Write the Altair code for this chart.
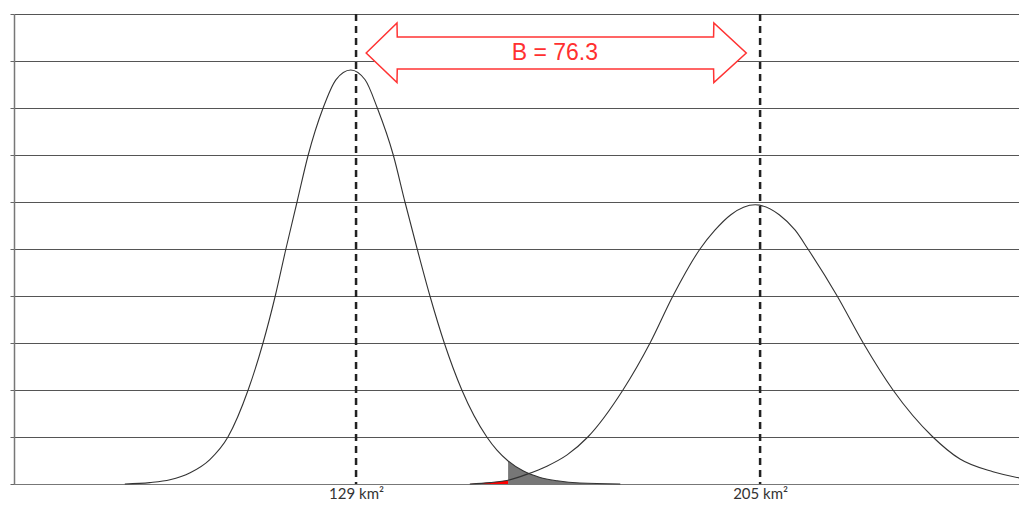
import altair as alt
import pandas as pd

# Curve 1 (left distribution): x in km², y in grid units
c1_x = [85.5, 90.2, 94.0, 97.8, 101.5, 104.9, 108.7, 111.5, 113.8, 115.8, 117.9, 120.0,
        122.8, 125.2, 128.0, 130.7, 133.0, 136.0, 138.2, 140.5, 142.9, 145.6, 148.9,
        153.6, 155.5, 157.6, 160.4, 163.6, 166.8, 171.1, 178.7]
c1_y = [0.0, 0.03, 0.09, 0.24, 0.52, 1.0, 2.0, 3.0, 4.0, 5.0, 6.0, 7.0,
        8.0, 8.6, 8.81, 8.6, 8.0, 7.0, 6.0, 5.0, 4.0, 3.0, 2.0,
        1.0, 0.72, 0.49, 0.28, 0.14, 0.07, 0.02, 0.0]

# Curve 2 (right distribution)
c2_x = [150.4, 154.2, 157.6, 161.2, 164.9, 168.7, 172.6, 179.2, 184.3, 188.6, 193.7,
        196.5, 199.5, 204.1, 208.6, 211.6, 214.0, 219.5, 224.4, 230.0, 237.5, 242.6,
        248.8, 253.7]
c2_y = [0.0, 0.03, 0.08, 0.21, 0.38, 0.62, 1.0, 2.0, 3.0, 4.0, 5.0,
        5.4, 5.73, 5.94, 5.73, 5.4, 5.0, 4.0, 3.0, 2.0, 1.0, 0.53,
        0.26, 0.13]

means = [129, 205]
threshold = 157.6

arrow_x = [130.9, 136.7, 136.75, 196.25, 196.3, 202.4]
arrow_top = [9.17, 9.81, 9.51, 9.51, 9.81, 9.17]
arrow_bot = [9.17, 8.54, 8.83, 8.83, 8.54, 9.17]

label_text = ["B = 76.3"]
label_x = [166.4]
label_y = [9.17]

curves = pd.DataFrame({
    "x": c1_x + c2_x,
    "y": c1_y + c2_y,
    "curve": ["a"] * len(c1_x) + ["b"] * len(c2_x),
})
means_df = pd.DataFrame({"m": means})
arrow_df = pd.DataFrame({"x": arrow_x, "top": arrow_top, "bot": arrow_bot})
label_df = pd.DataFrame({"x": label_x, "y": label_y, "t": label_text})

xscale = alt.Scale(domain=[64.66, 253.7], nice=False, zero=False)
yscale = alt.Scale(domain=[0, 10], nice=False, zero=True)

xaxis = alt.Axis(values=means, labelExpr="datum.value + ' km²'", ticks=False, grid=False,
                 title=None, labelFont="Lato", labelFontSize=15, labelColor="#333333",
                 labelPadding=2, domainColor="#777777", domainWidth=1)
yaxis = alt.Axis(values=list(range(11)), labels=False, ticks=True, tickSize=4,
                 tickColor="#666666", grid=True, gridColor="#555555", gridWidth=1,
                 domainColor="#777777", domainWidth=1.5, title=None)

X = alt.X("x:Q", scale=xscale, axis=xaxis)
Y = alt.Y("y:Q", scale=yscale, axis=yaxis)

gray_fill = alt.Chart(curves).transform_filter(
    f"datum.curve == 'a' && datum.x >= {threshold}"
).mark_area(color="#777777", interpolate="monotone").encode(x=X, y=Y)

red_fill = alt.Chart(curves).transform_filter(
    f"datum.curve == 'b' && datum.x <= {threshold}"
).mark_area(color="#ff0000", interpolate="monotone").encode(x=X, y=Y)

lines = alt.Chart(curves).mark_line(
    color="#333333", strokeWidth=1.1, interpolate="monotone"
).encode(x=X, y=Y, detail="curve:N")

rules = alt.Chart(means_df).mark_rule(
    color="#222222", strokeWidth=2.5, strokeDash=[7, 5]
).encode(x=alt.X("m:Q", scale=xscale, axis=xaxis))

arrow = alt.Chart(arrow_df).mark_area(
    fill="white", stroke="#ff3333", strokeWidth=1.5, interpolate="linear", opacity=1
).encode(
    x=alt.X("x:Q", scale=xscale, axis=xaxis),
    y=alt.Y("top:Q", scale=yscale, axis=yaxis),
    y2="bot:Q",
)

text = alt.Chart(label_df).mark_text(
    font="Liberation Sans", fontSize=23, color="#ff3030", baseline="middle", align="center"
).encode(
    x=alt.X("x:Q", scale=xscale, axis=xaxis),
    y=alt.Y("y:Q", scale=yscale, axis=yaxis),
    text="t:N",
)

chart = alt.layer(gray_fill, red_fill, lines, rules, arrow, text).properties(
    width=1005, height=470,
    padding={"left": 6, "top": 6, "right": 0, "bottom": 17},
    autosize=alt.AutoSizeParams(type="none"),
).configure_view(stroke=None)

chart.save("out.html", embed_options={"renderer": "svg", "actions": False})
